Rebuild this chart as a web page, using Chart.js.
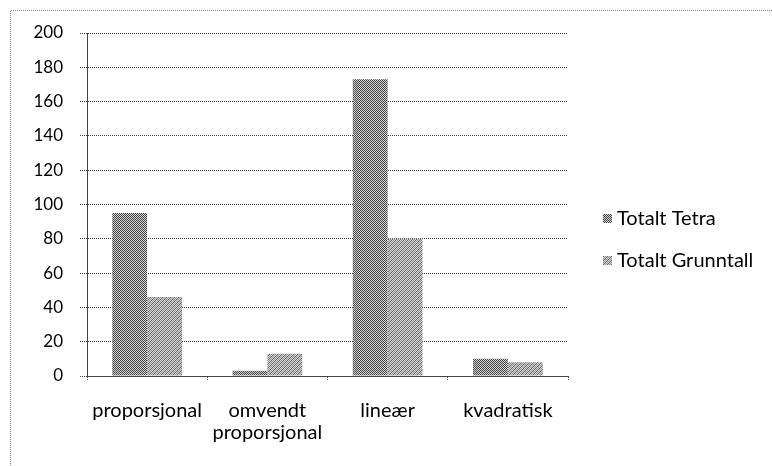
<!DOCTYPE html>
<html>
<head>
<meta charset="utf-8">
<script src="https://cdn.jsdelivr.net/npm/chart.js@4.4.1/dist/chart.umd.min.js"></script>
<style>
  html, body { margin: 0; padding: 0; background: #fff; }
  #wrap { position: relative; width: 772px; height: 466px; }
  canvas { display: block; }
</style>
</head>
<body>
<div id="wrap"><canvas id="c" width="772" height="466"></canvas></div>
<script>
// Categories and series
const categories = ['proporsjonal', ['omvendt', 'proporsjonal'], 'lineær', 'kvadratisk'];
const seriesNames = ['Totalt Tetra', 'Totalt Grunntall'];
const totaltTetra = [95, 3, 173, 10];
const totaltGrunntall = [46, 13, 80, 8];
const yTicks = [0, 20, 40, 60, 80, 100, 120, 140, 160, 180, 200];

const FONT = 'Lato, "Open Sans", sans-serif';
const LABEL_SIZE = 20;
const TICK_SIZE = 17;

// Fill patterns: dark checker and lighter diagonal hatch
function makePattern(size, draw) {
  const p = document.createElement('canvas');
  p.width = size; p.height = size;
  const g = p.getContext('2d');
  draw(g);
  return document.getElementById('c').getContext('2d').createPattern(p, 'repeat');
}
const checker = makePattern(2, g => {
  g.fillStyle = '#d2d2d2'; g.fillRect(0, 0, 2, 2);
  g.fillStyle = '#464646'; g.fillRect(0, 0, 1, 1); g.fillRect(1, 1, 1, 1);
});
const hatch = makePattern(4, g => {
  g.fillStyle = '#d0d0d0'; g.fillRect(0, 0, 4, 4);
  g.fillStyle = '#6a6a6a';
  for (let i = 0; i < 4; i++) { g.fillRect(i, 3 - i, 1, 1); }
  g.fillStyle = '#949494';
  for (let i = 0; i < 4; i++) { g.fillRect(i, (5 - i) % 4, 1, 1); }
});
const fills = [checker, hatch];

// Dotted frame on the top and left edges plus the legend at the right
const decor = {
  id: 'decor',
  afterDraw(chart) {
    const ctx = chart.ctx;
    ctx.save();
    ctx.strokeStyle = '#8a8a8a';
    ctx.lineWidth = 1;
    ctx.setLineDash([1, 1]);
    ctx.beginPath();
    ctx.moveTo(10.5, 480);
    ctx.lineTo(10.5, 10.5);
    ctx.lineTo(780, 10.5);
    ctx.stroke();
    ctx.setLineDash([]);

    ctx.font = LABEL_SIZE + 'px ' + FONT;
    ctx.textBaseline = 'middle';
    const rows = [218, 260];
    seriesNames.forEach((name, i) => {
      ctx.fillStyle = fills[i];
      ctx.fillRect(603, rows[i] - 4, 9, 9);
      ctx.fillStyle = '#000';
      ctx.fillText(name, 617, rows[i] + 1);
    });
    ctx.restore();
  }
};

new Chart(document.getElementById('c'), {
  type: 'bar',
  data: {
    labels: categories,
    datasets: [
      { label: seriesNames[0], data: totaltTetra, backgroundColor: checker },
      { label: seriesNames[1], data: totaltGrunntall, backgroundColor: hatch }
    ]
  },
  options: {
    responsive: false,
    animation: false,
    devicePixelRatio: 1,
    layout: { padding: { left: 0, top: 33, right: 204, bottom: 0 } },
    datasets: { bar: { categoryPercentage: 0.58, barPercentage: 1.0 } },
    plugins: {
      legend: { display: false },
      tooltip: { enabled: false }
    },
    scales: {
      x: {
        offset: true,
        grid: {
          offset: true,
          drawOnChartArea: false,
          drawTicks: true,
          tickLength: 5,
          color: '#444',
          tickBorderDash: [1, 1]
        },
        border: { display: true, color: '#444', dash: [1, 1] },
        ticks: {
          color: '#000',
          font: { family: FONT, size: LABEL_SIZE, lineHeight: 1.1 },
          padding: 19,
          maxRotation: 0,
          autoSkip: false
        },
        afterFit(scale) { scale.height = 90; }
      },
      y: {
        min: 0,
        max: 200,
        afterBuildTicks(scale) { scale.ticks = yTicks.map(v => ({ value: v })); },
        grid: {
          color: '#444',
          tickLength: 7,
          drawTicks: true,
          tickBorderDash: [1, 1]
        },
        border: { display: true, color: '#444', dash: [1, 1] },
        ticks: {
          color: '#000',
          font: { family: FONT, size: TICK_SIZE },
          padding: 17
        },
        afterFit(scale) { scale.width = 87; }
      }
    }
  },
  plugins: [decor]
});
</script>
</body>
</html>
